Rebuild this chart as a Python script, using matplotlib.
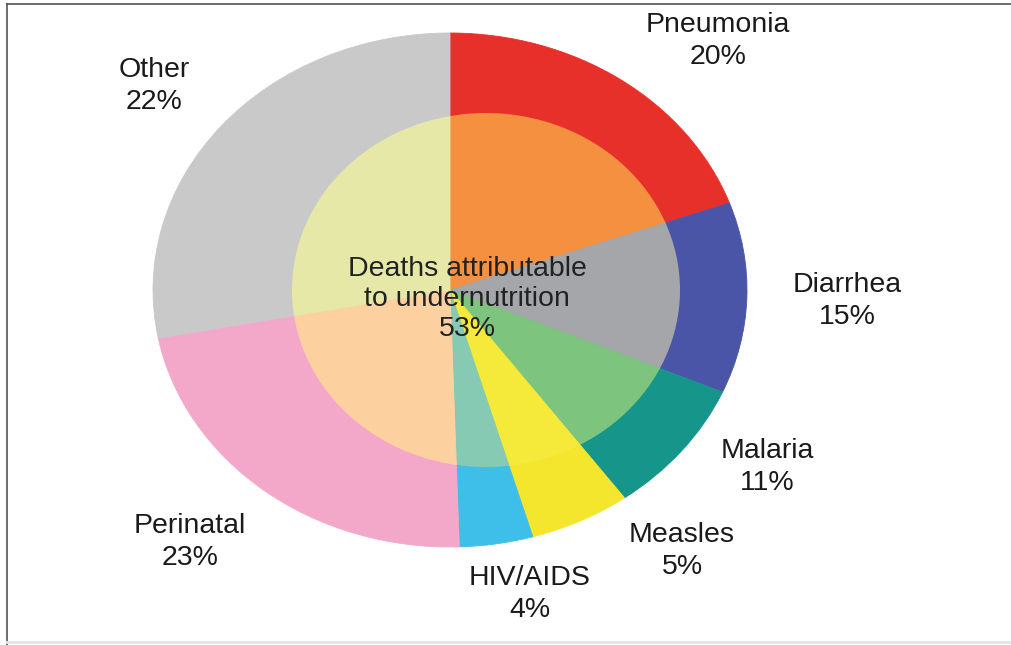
import matplotlib
matplotlib.use("Agg")
import matplotlib.pyplot as plt
from matplotlib.patches import Ellipse
from matplotlib.lines import Line2D

plt.rcParams['font.family'] = ['Liberation Sans', 'DejaVu Sans']

# Data
causes = ["Pneumonia", "Diarrhea", "Malaria", "Measles", "HIV/AIDS", "Perinatal", "Other"]
label_pct = [20, 15, 11, 5, 4, 23, 22]          # percentages printed on the chart
slice_sizes = [19.5, 12.0, 8.5, 5.5, 4.0, 22.5, 28.0]  # wedge sizes as drawn
outer_colors = ["#E8302A", "#4A55A8", "#16968A", "#F4E62C", "#3EBFEA", "#F3A8CA", "#C9C9C9"]
inner_colors = ["#F4903F", "#A4A6AA", "#7DC47E", "#F5E93A", "#86CAB3", "#FDD19F", "#E5E8A7"]
center_text = "Deaths attributable\nto undernutrition\n53%"

W, H = 1011, 645
fig = plt.figure(figsize=(W / 100, H / 100), dpi=100)
ax = fig.add_axes([0, 0, 1, 1])

# pie geometry (pixels)
cx, cy = 450, 290
rx, ry = 297, 257

wedges, _ = ax.pie(slice_sizes, colors=outer_colors, startangle=90, counterclock=False,
                   radius=1.0, wedgeprops=dict(linewidth=0.6, edgecolor="none"))
for w, c in zip(wedges, outer_colors):
    w.set_edgecolor(c)

inner, _ = ax.pie(slice_sizes, colors=inner_colors, startangle=90, counterclock=False,
                  radius=1.0, wedgeprops=dict(linewidth=0.6, edgecolor="none"))
clip = Ellipse(((486 - cx) / rx, 0.0), width=2 * 194 / rx, height=2 * 177 / ry,
               transform=ax.transData, facecolor="none", edgecolor="none")
ax.add_patch(clip)
for w, c in zip(inner, inner_colors):
    w.set_edgecolor(c)
    w.set_clip_on(True)
    w.set_clip_path(clip)

ax.set_aspect("auto")
ax.set_xlim(-cx / rx, (W - cx) / rx)
ax.set_ylim(-(H - cy) / ry, cy / ry)
ax.axis("off")

def fx(px):
    return px / W

def fy(py):
    return 1 - py / H

label_pos = [(718, 41), (847, 301), (767, 467), (682, 551), (530, 594), (190, 542), (154, 86)]
for name, pct, (px, py) in zip(causes, label_pct, label_pos):
    fig.text(fx(px), fy(py), f"{name}\n{pct}%", ha="center", va="center",
             fontsize=20.5, color="#1a1a1a", linespacing=1.32)

fig.text(fx(467), fy(299), center_text, ha="center", va="center",
         fontsize=20.5, color="#222222", linespacing=1.22)

# frame lines
fig.add_artist(Line2D([fx(7), fx(7)], [fy(4), fy(645)], color="#555555", lw=1.2))
fig.add_artist(Line2D([fx(7), fx(1011)], [fy(4), fy(4)], color="#555555", lw=1.2))
fig.add_artist(Line2D([fx(7), fx(1011)], [fy(642), fy(642)], color="#e6e6e6", lw=2))

fig.savefig("out.png", dpi=100)
